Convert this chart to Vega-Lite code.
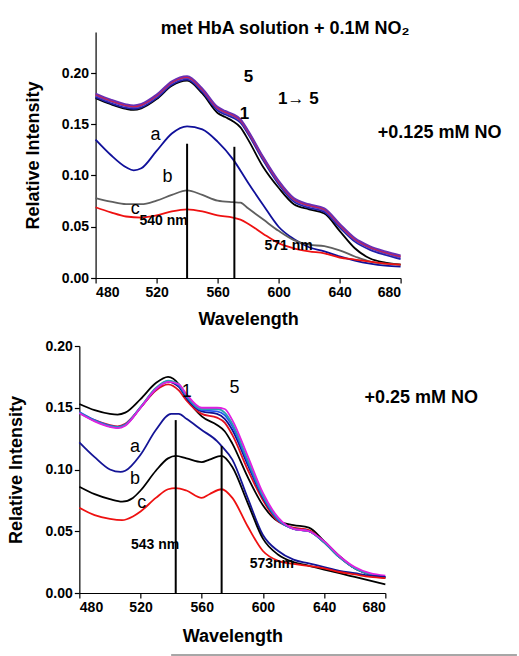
{
  "$schema": "https://vega.github.io/schema/vega-lite/v6.json",
  "background": "white",
  "padding": {"left": 7, "top": 20, "right": 0, "bottom": 0},
  "spacing": 11,
  "center": true,
  "resolve": {"scale": {"color": "independent"}},
  "config": {
    "view": {"stroke": null},
    "font": "Liberation Sans",
    "axis": {
      "grid": false,
      "domainColor": "black",
      "domainWidth": 1.2,
      "tickColor": "black",
      "tickWidth": 1.2,
      "labelFont": "Liberation Sans",
      "labelFontWeight": "bold",
      "labelFontSize": 14,
      "labelColor": "black",
      "labelPadding": 2,
      "titleFont": "Liberation Sans",
      "titleFontWeight": "bold",
      "titleFontSize": 18,
      "titleColor": "black"
    },
    "title": {"font": "Liberation Sans", "fontWeight": "bold", "fontSize": 18, "color": "black"}
  },
  "datasets": {
    "top": [
      {"s":"1","x":480,"y":0.1755},{"s":"1","x":490,"y":0.1695},{"s":"1","x":500,"y":0.165},{"s":"1","x":505,"y":0.164},{"s":"1","x":510,"y":0.1655},{"s":"1","x":520,"y":0.1745},{"s":"1","x":530,"y":0.1875},{"s":"1","x":540,"y":0.1925},{"s":"1","x":550,"y":0.180},{"s":"1","x":560,"y":0.161},{"s":"1","x":565,"y":0.157},{"s":"1","x":570,"y":0.153},{"s":"1","x":575,"y":0.147},{"s":"1","x":580,"y":0.135},{"s":"1","x":590,"y":0.108},{"s":"1","x":600,"y":0.088},{"s":"1","x":610,"y":0.072},{"s":"1","x":620,"y":0.067},{"s":"1","x":630,"y":0.063},{"s":"1","x":640,"y":0.046},{"s":"1","x":650,"y":0.029},{"s":"1","x":660,"y":0.019},{"s":"1","x":670,"y":0.015},{"s":"1","x":680,"y":0.013},
      {"s":"2","x":480,"y":0.1765},{"s":"2","x":490,"y":0.1705},{"s":"2","x":500,"y":0.166},{"s":"2","x":505,"y":0.165},{"s":"2","x":510,"y":0.1665},{"s":"2","x":520,"y":0.1755},{"s":"2","x":530,"y":0.1885},{"s":"2","x":540,"y":0.1935},{"s":"2","x":550,"y":0.1815},{"s":"2","x":560,"y":0.1635},{"s":"2","x":565,"y":0.1595},{"s":"2","x":570,"y":0.1565},{"s":"2","x":575,"y":0.1515},{"s":"2","x":580,"y":0.1405},{"s":"2","x":590,"y":0.1145},{"s":"2","x":600,"y":0.0915},{"s":"2","x":610,"y":0.0745},{"s":"2","x":620,"y":0.0685},{"s":"2","x":630,"y":0.0645},{"s":"2","x":640,"y":0.0495},{"s":"2","x":650,"y":0.0355},{"s":"2","x":660,"y":0.0275},{"s":"2","x":670,"y":0.0225},{"s":"2","x":680,"y":0.0185},
      {"s":"3","x":480,"y":0.178},{"s":"3","x":490,"y":0.172},{"s":"3","x":500,"y":0.1675},{"s":"3","x":505,"y":0.1665},{"s":"3","x":510,"y":0.168},{"s":"3","x":520,"y":0.177},{"s":"3","x":530,"y":0.190},{"s":"3","x":540,"y":0.195},{"s":"3","x":550,"y":0.183},{"s":"3","x":560,"y":0.165},{"s":"3","x":565,"y":0.161},{"s":"3","x":570,"y":0.158},{"s":"3","x":575,"y":0.153},{"s":"3","x":580,"y":0.142},{"s":"3","x":590,"y":0.116},{"s":"3","x":600,"y":0.093},{"s":"3","x":610,"y":0.076},{"s":"3","x":620,"y":0.070},{"s":"3","x":630,"y":0.066},{"s":"3","x":640,"y":0.051},{"s":"3","x":650,"y":0.037},{"s":"3","x":660,"y":0.029},{"s":"3","x":670,"y":0.024},{"s":"3","x":680,"y":0.020},
      {"s":"4","x":480,"y":0.179},{"s":"4","x":490,"y":0.173},{"s":"4","x":500,"y":0.1685},{"s":"4","x":505,"y":0.1675},{"s":"4","x":510,"y":0.169},{"s":"4","x":520,"y":0.178},{"s":"4","x":530,"y":0.191},{"s":"4","x":540,"y":0.196},{"s":"4","x":550,"y":0.184},{"s":"4","x":560,"y":0.166},{"s":"4","x":565,"y":0.162},{"s":"4","x":570,"y":0.159},{"s":"4","x":575,"y":0.154},{"s":"4","x":580,"y":0.143},{"s":"4","x":590,"y":0.117},{"s":"4","x":600,"y":0.094},{"s":"4","x":610,"y":0.077},{"s":"4","x":620,"y":0.071},{"s":"4","x":630,"y":0.067},{"s":"4","x":640,"y":0.052},{"s":"4","x":650,"y":0.038},{"s":"4","x":660,"y":0.030},{"s":"4","x":670,"y":0.025},{"s":"4","x":680,"y":0.021},
      {"s":"5","x":480,"y":0.180},{"s":"5","x":490,"y":0.174},{"s":"5","x":500,"y":0.1695},{"s":"5","x":505,"y":0.1685},{"s":"5","x":510,"y":0.170},{"s":"5","x":520,"y":0.179},{"s":"5","x":530,"y":0.192},{"s":"5","x":540,"y":0.197},{"s":"5","x":550,"y":0.185},{"s":"5","x":560,"y":0.167},{"s":"5","x":565,"y":0.163},{"s":"5","x":570,"y":0.160},{"s":"5","x":575,"y":0.155},{"s":"5","x":580,"y":0.144},{"s":"5","x":590,"y":0.118},{"s":"5","x":600,"y":0.095},{"s":"5","x":610,"y":0.078},{"s":"5","x":620,"y":0.072},{"s":"5","x":630,"y":0.068},{"s":"5","x":640,"y":0.053},{"s":"5","x":650,"y":0.039},{"s":"5","x":660,"y":0.031},{"s":"5","x":670,"y":0.026},{"s":"5","x":680,"y":0.022},
      {"s":"a","x":480,"y":0.135},{"s":"a","x":490,"y":0.120},{"s":"a","x":500,"y":0.108},{"s":"a","x":505,"y":0.105},{"s":"a","x":510,"y":0.107},{"s":"a","x":520,"y":0.124},{"s":"a","x":530,"y":0.141},{"s":"a","x":540,"y":0.148},{"s":"a","x":550,"y":0.145},{"s":"a","x":560,"y":0.133},{"s":"a","x":570,"y":0.116},{"s":"a","x":580,"y":0.093},{"s":"a","x":590,"y":0.071},{"s":"a","x":600,"y":0.050},{"s":"a","x":610,"y":0.038},{"s":"a","x":620,"y":0.030},{"s":"a","x":630,"y":0.026},{"s":"a","x":640,"y":0.021},{"s":"a","x":650,"y":0.017},{"s":"a","x":660,"y":0.014},{"s":"a","x":670,"y":0.012},{"s":"a","x":680,"y":0.011},
      {"s":"b","x":480,"y":0.078},{"s":"b","x":490,"y":0.0745},{"s":"b","x":500,"y":0.072},{"s":"b","x":510,"y":0.072},{"s":"b","x":520,"y":0.0755},{"s":"b","x":530,"y":0.081},{"s":"b","x":540,"y":0.0855},{"s":"b","x":550,"y":0.081},{"s":"b","x":560,"y":0.0755},{"s":"b","x":570,"y":0.074},{"s":"b","x":575,"y":0.0735},{"s":"b","x":580,"y":0.068},{"s":"b","x":590,"y":0.057},{"s":"b","x":600,"y":0.046},{"s":"b","x":610,"y":0.037},{"s":"b","x":620,"y":0.0325},{"s":"b","x":630,"y":0.031},{"s":"b","x":640,"y":0.027},{"s":"b","x":650,"y":0.021},{"s":"b","x":660,"y":0.016},{"s":"b","x":670,"y":0.014},{"s":"b","x":680,"y":0.013},
      {"s":"c","x":480,"y":0.069},{"s":"c","x":490,"y":0.064},{"s":"c","x":500,"y":0.060},{"s":"c","x":510,"y":0.059},{"s":"c","x":520,"y":0.061},{"s":"c","x":530,"y":0.065},{"s":"c","x":540,"y":0.067},{"s":"c","x":550,"y":0.065},{"s":"c","x":560,"y":0.061},{"s":"c","x":570,"y":0.059},{"s":"c","x":575,"y":0.057},{"s":"c","x":580,"y":0.053},{"s":"c","x":590,"y":0.043},{"s":"c","x":600,"y":0.034},{"s":"c","x":610,"y":0.029},{"s":"c","x":620,"y":0.026},{"s":"c","x":630,"y":0.024},{"s":"c","x":640,"y":0.020},{"s":"c","x":650,"y":0.018},{"s":"c","x":660,"y":0.016},{"s":"c","x":670,"y":0.014},{"s":"c","x":680,"y":0.013}
    ],
    "bot": [
      {"s":"g1","x":480,"y":0.153},{"s":"g1","x":490,"y":0.148},{"s":"g1","x":500,"y":0.145},{"s":"g1","x":505,"y":0.1445},{"s":"g1","x":510,"y":0.146},{"s":"g1","x":520,"y":0.157},{"s":"g1","x":530,"y":0.170},{"s":"g1","x":538,"y":0.175},{"s":"g1","x":545,"y":0.169},{"s":"g1","x":550,"y":0.158},{"s":"g1","x":560,"y":0.143},{"s":"g1","x":570,"y":0.136},{"s":"g1","x":575,"y":0.131},{"s":"g1","x":580,"y":0.121},{"s":"g1","x":590,"y":0.094},{"s":"g1","x":600,"y":0.071},{"s":"g1","x":610,"y":0.058},{"s":"g1","x":620,"y":0.055},{"s":"g1","x":630,"y":0.053},{"s":"g1","x":640,"y":0.042},{"s":"g1","x":650,"y":0.030},{"s":"g1","x":660,"y":0.020},{"s":"g1","x":670,"y":0.015},{"s":"g1","x":680,"y":0.012},
      {"s":"g2","x":480,"y":0.146},{"s":"g2","x":490,"y":0.140},{"s":"g2","x":500,"y":0.136},{"s":"g2","x":505,"y":0.135},{"s":"g2","x":510,"y":0.137},{"s":"g2","x":520,"y":0.150},{"s":"g2","x":530,"y":0.164},{"s":"g2","x":538,"y":0.169},{"s":"g2","x":545,"y":0.164},{"s":"g2","x":550,"y":0.156},{"s":"g2","x":560,"y":0.145},{"s":"g2","x":570,"y":0.142},{"s":"g2","x":575,"y":0.138},{"s":"g2","x":580,"y":0.128},{"s":"g2","x":590,"y":0.100},{"s":"g2","x":600,"y":0.075},{"s":"g2","x":610,"y":0.058},{"s":"g2","x":620,"y":0.053},{"s":"g2","x":630,"y":0.051},{"s":"g2","x":640,"y":0.041},{"s":"g2","x":650,"y":0.029},{"s":"g2","x":660,"y":0.020},{"s":"g2","x":670,"y":0.015},{"s":"g2","x":680,"y":0.013},
      {"s":"g3","x":480,"y":0.146},{"s":"g3","x":490,"y":0.1395},{"s":"g3","x":500,"y":0.135},{"s":"g3","x":505,"y":0.134},{"s":"g3","x":510,"y":0.136},{"s":"g3","x":520,"y":0.150},{"s":"g3","x":530,"y":0.165},{"s":"g3","x":538,"y":0.171},{"s":"g3","x":545,"y":0.167},{"s":"g3","x":550,"y":0.158},{"s":"g3","x":560,"y":0.147},{"s":"g3","x":570,"y":0.145},{"s":"g3","x":575,"y":0.141},{"s":"g3","x":580,"y":0.132},{"s":"g3","x":590,"y":0.104},{"s":"g3","x":600,"y":0.077},{"s":"g3","x":610,"y":0.059},{"s":"g3","x":620,"y":0.052},{"s":"g3","x":630,"y":0.050},{"s":"g3","x":640,"y":0.041},{"s":"g3","x":650,"y":0.029},{"s":"g3","x":660,"y":0.020},{"s":"g3","x":670,"y":0.015},{"s":"g3","x":680,"y":0.013},
      {"s":"g4","x":480,"y":0.1465},{"s":"g4","x":490,"y":0.140},{"s":"g4","x":500,"y":0.1355},{"s":"g4","x":505,"y":0.1345},{"s":"g4","x":510,"y":0.1365},{"s":"g4","x":520,"y":0.1505},{"s":"g4","x":530,"y":0.1655},{"s":"g4","x":538,"y":0.1715},{"s":"g4","x":545,"y":0.168},{"s":"g4","x":550,"y":0.159},{"s":"g4","x":560,"y":0.148},{"s":"g4","x":570,"y":0.147},{"s":"g4","x":575,"y":0.144},{"s":"g4","x":580,"y":0.135},{"s":"g4","x":590,"y":0.106},{"s":"g4","x":600,"y":0.078},{"s":"g4","x":610,"y":0.059},{"s":"g4","x":620,"y":0.052},{"s":"g4","x":630,"y":0.050},{"s":"g4","x":640,"y":0.041},{"s":"g4","x":650,"y":0.029},{"s":"g4","x":660,"y":0.020},{"s":"g4","x":670,"y":0.015},{"s":"g4","x":680,"y":0.013},
      {"s":"g5","x":480,"y":0.146},{"s":"g5","x":490,"y":0.1395},{"s":"g5","x":500,"y":0.135},{"s":"g5","x":505,"y":0.134},{"s":"g5","x":510,"y":0.136},{"s":"g5","x":520,"y":0.1505},{"s":"g5","x":530,"y":0.166},{"s":"g5","x":538,"y":0.172},{"s":"g5","x":545,"y":0.169},{"s":"g5","x":550,"y":0.160},{"s":"g5","x":560,"y":0.149},{"s":"g5","x":570,"y":0.149},{"s":"g5","x":575,"y":0.146},{"s":"g5","x":580,"y":0.137},{"s":"g5","x":590,"y":0.108},{"s":"g5","x":600,"y":0.079},{"s":"g5","x":610,"y":0.060},{"s":"g5","x":620,"y":0.052},{"s":"g5","x":630,"y":0.050},{"s":"g5","x":640,"y":0.041},{"s":"g5","x":650,"y":0.029},{"s":"g5","x":660,"y":0.020},{"s":"g5","x":670,"y":0.015},{"s":"g5","x":680,"y":0.013},
      {"s":"g6","x":480,"y":0.1455},{"s":"g6","x":490,"y":0.139},{"s":"g6","x":500,"y":0.1345},{"s":"g6","x":505,"y":0.1335},{"s":"g6","x":510,"y":0.1355},{"s":"g6","x":520,"y":0.150},{"s":"g6","x":530,"y":0.165},{"s":"g6","x":538,"y":0.171},{"s":"g6","x":545,"y":0.169},{"s":"g6","x":550,"y":0.161},{"s":"g6","x":560,"y":0.150},{"s":"g6","x":570,"y":0.150},{"s":"g6","x":575,"y":0.149},{"s":"g6","x":580,"y":0.140},{"s":"g6","x":590,"y":0.111},{"s":"g6","x":600,"y":0.081},{"s":"g6","x":610,"y":0.061},{"s":"g6","x":620,"y":0.052},{"s":"g6","x":630,"y":0.050},{"s":"g6","x":640,"y":0.042},{"s":"g6","x":650,"y":0.030},{"s":"g6","x":660,"y":0.021},{"s":"g6","x":670,"y":0.016},{"s":"g6","x":680,"y":0.014},
      {"s":"a","x":480,"y":0.122},{"s":"a","x":490,"y":0.110},{"s":"a","x":500,"y":0.100},{"s":"a","x":507,"y":0.098},{"s":"a","x":510,"y":0.099},{"s":"a","x":520,"y":0.112},{"s":"a","x":530,"y":0.132},{"s":"a","x":540,"y":0.145},{"s":"a","x":545,"y":0.145},{"s":"a","x":550,"y":0.141},{"s":"a","x":560,"y":0.132},{"s":"a","x":570,"y":0.123},{"s":"a","x":573,"y":0.119},{"s":"a","x":580,"y":0.108},{"s":"a","x":590,"y":0.077},{"s":"a","x":600,"y":0.047},{"s":"a","x":610,"y":0.034},{"s":"a","x":620,"y":0.027},{"s":"a","x":630,"y":0.024},{"s":"a","x":640,"y":0.021},{"s":"a","x":650,"y":0.018},{"s":"a","x":660,"y":0.016},{"s":"a","x":670,"y":0.014},{"s":"a","x":680,"y":0.013},
      {"s":"b","x":480,"y":0.086},{"s":"b","x":490,"y":0.080},{"s":"b","x":500,"y":0.076},{"s":"b","x":508,"y":0.074},{"s":"b","x":515,"y":0.077},{"s":"b","x":520,"y":0.083},{"s":"b","x":530,"y":0.099},{"s":"b","x":538,"y":0.109},{"s":"b","x":543,"y":0.111},{"s":"b","x":550,"y":0.109},{"s":"b","x":560,"y":0.106},{"s":"b","x":565,"y":0.108},{"s":"b","x":573,"y":0.111},{"s":"b","x":580,"y":0.102},{"s":"b","x":590,"y":0.073},{"s":"b","x":600,"y":0.044},{"s":"b","x":610,"y":0.031},{"s":"b","x":620,"y":0.025},{"s":"b","x":630,"y":0.022},{"s":"b","x":640,"y":0.019},{"s":"b","x":650,"y":0.016},{"s":"b","x":660,"y":0.013},{"s":"b","x":670,"y":0.010},{"s":"b","x":680,"y":0.007},
      {"s":"c","x":480,"y":0.069},{"s":"c","x":490,"y":0.063},{"s":"c","x":500,"y":0.060},{"s":"c","x":508,"y":0.059},{"s":"c","x":515,"y":0.062},{"s":"c","x":520,"y":0.066},{"s":"c","x":530,"y":0.077},{"s":"c","x":538,"y":0.084},{"s":"c","x":543,"y":0.085},{"s":"c","x":550,"y":0.083},{"s":"c","x":560,"y":0.077},{"s":"c","x":565,"y":0.080},{"s":"c","x":573,"y":0.084},{"s":"c","x":580,"y":0.077},{"s":"c","x":590,"y":0.054},{"s":"c","x":600,"y":0.034},{"s":"c","x":610,"y":0.026},{"s":"c","x":620,"y":0.0235},{"s":"c","x":630,"y":0.022},{"s":"c","x":640,"y":0.020},{"s":"c","x":650,"y":0.017},{"s":"c","x":660,"y":0.015},{"s":"c","x":670,"y":0.013},{"s":"c","x":680,"y":0.012}
    ],
    "topRules": [{"x":540,"y":0,"y2":0.131},{"x":571,"y":0,"y2":0.128}],
    "botRules": [{"x":543,"y":0,"y2":0.14},{"x":573,"y":0,"y2":0.119}],
    "botLine": [{"x":540,"x2":766,"y":-0.0502}],
    "topLabels": [
      {"t":"5","x":580.3,"y":0.196,"k":"num"},
      {"t":"1\u2192 5","x":613,"y":0.175,"k":"num"},
      {"t":"1","x":577.7,"y":0.160,"k":"num"},
      {"t":"a","x":519.3,"y":0.140,"k":"letter"},
      {"t":"b","x":527.2,"y":0.0985,"k":"letter"},
      {"t":"c","x":506,"y":0.067,"k":"letter"},
      {"t":"540 nm","x":524.6,"y":0.0556,"k":"nm"},
      {"t":"571 nm","x":606.6,"y":0.031,"k":"nm"},
      {"t":"+0.125 mM NO","x":705.6,"y":0.141,"k":"big"}
    ],
    "botLabels": [
      {"t":"1","x":550.2,"y":0.163,"k":"letter"},
      {"t":"5","x":581.4,"y":0.166,"k":"letter"},
      {"t":"a","x":516.4,"y":0.118,"k":"letter"},
      {"t":"b","x":516.4,"y":0.092,"k":"letter"},
      {"t":"c","x":520.8,"y":0.0727,"k":"letter"},
      {"t":"543 nm","x":529.5,"y":0.039,"k":"nm"},
      {"t":"573nm","x":605.8,"y":0.0235,"k":"nm"},
      {"t":"+0.25 mM NO","x":703.5,"y":0.158,"k":"big"}
    ]
  },
  "vconcat": [
    {
      "width": 305,
      "height": 246,
      "title": {"text": "met HbA solution + 0.1M NO\u2082", "anchor": "middle", "dx": 37, "offset": -6, "fontSize": 18},
      "layer": [
        {
          "data": {"name": "top"},
          "mark": {"type": "line", "interpolate": "monotone", "strokeWidth": 1.8},
          "encoding": {
            "x": {"field": "x", "type": "quantitative", "scale": {"domain": [480, 680], "nice": false, "zero": false},
                  "axis": {"title": "Wavelength", "values": [480,500,520,540,560,580,600,620,640,660,680], "labelExpr": "datum.value % 40 === 0 ? datum.value : ''", "titlePadding": 11,
                           "tickSize": {"condition": {"test": "datum.value % 40 === 0", "value": 5}, "value": 3}}},
            "y": {"field": "y", "type": "quantitative", "scale": {"domain": [0, 0.24], "nice": false},
                  "axis": {"title": "Relative Intensity", "values": [0,0.025,0.05,0.075,0.1,0.125,0.15,0.175,0.2,0.225], "labelExpr": "abs(datum.value*20 - round(datum.value*20)) < 0.001 ? format(datum.value, '.2f') : ''", "titlePadding": 19,
                           "tickSize": {"condition": {"test": "abs(datum.value*20 - round(datum.value*20)) < 0.001", "value": 5}, "value": 3}}},
            "color": {"field": "s", "type": "nominal", "legend": null,
                      "scale": {"domain": ["1","2","3","4","5","a","b","c"], "range": ["#000000","#2020a8","#5a3cc0","#d82040","#6a2fb5","#10109a","#5f5f5f","#ee1111"]}}
          }
        },
        {
          "data": {"name": "topRules"},
          "mark": {"type": "rule", "color": "black", "strokeWidth": 2},
          "encoding": {"x": {"field": "x", "type": "quantitative"}, "y": {"field": "y", "type": "quantitative"}, "y2": {"field": "y2"}}
        },
        {
          "data": {"name": "topLabels"},
          "transform": [{"filter": "datum.k === 'num'"}],
          "mark": {"type": "text", "fontSize": 17, "fontWeight": "bold", "color": "black"},
          "encoding": {"x": {"field": "x", "type": "quantitative"}, "y": {"field": "y", "type": "quantitative"}, "text": {"field": "t"}}
        },
        {
          "data": {"name": "topLabels"},
          "transform": [{"filter": "datum.k === 'letter'"}],
          "mark": {"type": "text", "fontSize": 18, "color": "black"},
          "encoding": {"x": {"field": "x", "type": "quantitative"}, "y": {"field": "y", "type": "quantitative"}, "text": {"field": "t"}}
        },
        {
          "data": {"name": "topLabels"},
          "transform": [{"filter": "datum.k === 'nm'"}],
          "mark": {"type": "text", "fontSize": 14, "fontWeight": "bold", "color": "black"},
          "encoding": {"x": {"field": "x", "type": "quantitative"}, "y": {"field": "y", "type": "quantitative"}, "text": {"field": "t"}}
        },
        {
          "data": {"name": "topLabels"},
          "transform": [{"filter": "datum.k === 'big'"}],
          "mark": {"type": "text", "fontSize": 18, "fontWeight": "bold", "color": "black"},
          "encoding": {"x": {"field": "x", "type": "quantitative"}, "y": {"field": "y", "type": "quantitative"}, "text": {"field": "t"}}
        }
      ]
    },
    {
      "width": 306,
      "height": 247,
      "layer": [
        {
          "data": {"name": "bot"},
          "mark": {"type": "line", "interpolate": "monotone", "strokeWidth": 1.8},
          "encoding": {
            "x": {"field": "x", "type": "quantitative", "scale": {"domain": [480, 680], "nice": false, "zero": false},
                  "axis": {"title": "Wavelength", "values": [480,500,520,540,560,580,600,620,640,660,680], "labelExpr": "datum.value % 40 === 0 ? datum.value : ''", "titlePadding": 13,
                           "tickSize": {"condition": {"test": "datum.value % 40 === 0", "value": 5}, "value": 3}}},
            "y": {"field": "y", "type": "quantitative", "scale": {"domain": [0, 0.2], "nice": false},
                  "axis": {"title": "Relative Intensity", "values": [0,0.025,0.05,0.075,0.1,0.125,0.15,0.175,0.2], "labelExpr": "abs(datum.value*20 - round(datum.value*20)) < 0.001 ? format(datum.value, '.2f') : ''", "titlePadding": 20,
                           "tickSize": {"condition": {"test": "abs(datum.value*20 - round(datum.value*20)) < 0.001", "value": 5}, "value": 3}}},
            "color": {"field": "s", "type": "nominal", "legend": null,
                      "scale": {"domain": ["g1","g2","g3","g4","g5","g6","a","b","c"], "range": ["#000000","#e01020","#101090","#2255ee","#2a9fb0","#e020e0","#141496","#000000","#ee1111"]}}
          }
        },
        {
          "data": {"name": "botRules"},
          "mark": {"type": "rule", "color": "black", "strokeWidth": 2},
          "encoding": {"x": {"field": "x", "type": "quantitative"}, "y": {"field": "y", "type": "quantitative"}, "y2": {"field": "y2"}}
        },
        {
          "data": {"name": "botLine"},
          "mark": {"type": "rule", "color": "#8a8a8a", "strokeWidth": 1.5},
          "encoding": {"x": {"field": "x", "type": "quantitative"}, "x2": {"field": "x2"}, "y": {"field": "y", "type": "quantitative"}}
        },
        {
          "data": {"name": "botLabels"},
          "transform": [{"filter": "datum.k === 'letter'"}],
          "mark": {"type": "text", "fontSize": 18, "color": "black"},
          "encoding": {"x": {"field": "x", "type": "quantitative"}, "y": {"field": "y", "type": "quantitative"}, "text": {"field": "t"}}
        },
        {
          "data": {"name": "botLabels"},
          "transform": [{"filter": "datum.k === 'nm'"}],
          "mark": {"type": "text", "fontSize": 14, "fontWeight": "bold", "color": "black"},
          "encoding": {"x": {"field": "x", "type": "quantitative"}, "y": {"field": "y", "type": "quantitative"}, "text": {"field": "t"}}
        },
        {
          "data": {"name": "botLabels"},
          "transform": [{"filter": "datum.k === 'big'"}],
          "mark": {"type": "text", "fontSize": 18, "fontWeight": "bold", "color": "black"},
          "encoding": {"x": {"field": "x", "type": "quantitative"}, "y": {"field": "y", "type": "quantitative"}, "text": {"field": "t"}}
        }
      ]
    }
  ]
}
